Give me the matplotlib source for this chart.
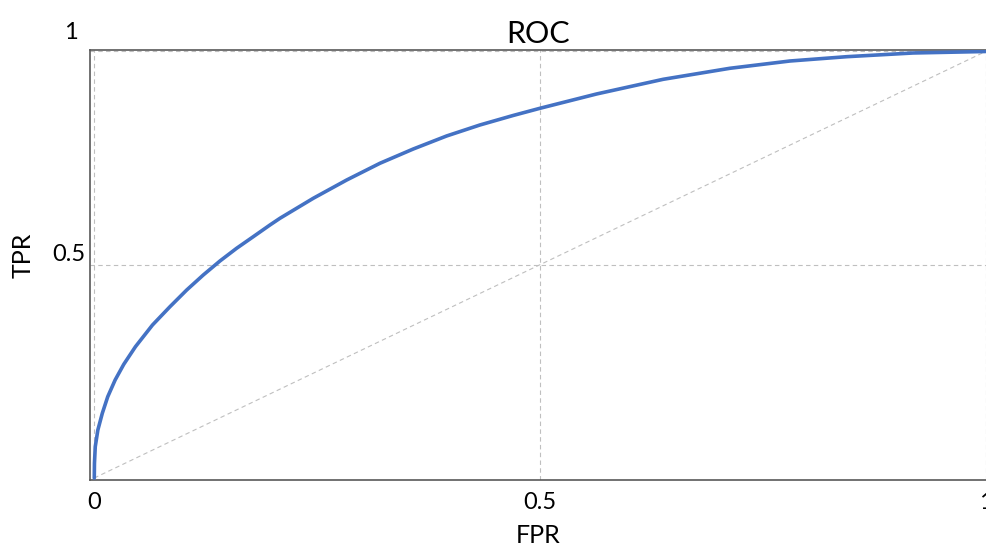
import matplotlib
matplotlib.use("Agg")
import matplotlib.pyplot as plt
import matplotlib.transforms as mtransforms

plt.rcParams['font.family'] = ['Lato', 'DejaVu Sans']

# ROC curve points
fpr = [0.0, 0.0002, 0.0011, 0.0040, 0.0090, 0.0151, 0.0234, 0.0331, 0.0462,
       0.0653, 0.0849, 0.1037, 0.1223, 0.1410, 0.1597, 0.1784, 0.1971, 0.2083,
       0.2457, 0.2832, 0.3205, 0.3579, 0.3953, 0.4327, 0.4700, 0.5000,
       0.5636, 0.6383, 0.7131, 0.7805, 0.8441, 0.9188, 1.0]
tpr = [0.0, 0.0345, 0.0734, 0.1125, 0.1517, 0.1906, 0.2298, 0.2666, 0.3079,
       0.3587, 0.4016, 0.4408, 0.4760, 0.5088, 0.5386, 0.5658, 0.5932, 0.6089,
       0.6558, 0.6987, 0.7379, 0.7714, 0.8019, 0.8277, 0.8500, 0.8668,
       0.9004, 0.9348, 0.9606, 0.9777, 0.9878, 0.9965, 1.0]
chance = [0.0, 1.0]

x_ticks = [0, 0.5, 1]
x_ticklabels = ["0", "0.5", "1"]
y_ticks = [0.5, 1]
y_ticklabels = ["0.5", "1"]

title = "ROC"
xlabel = "FPR"
ylabel = "TPR"

W, H = 986, 545
fig = plt.figure(figsize=(W / 100, H / 100), dpi=100)
ax = fig.add_axes([90 / W, (H - 479.7) / H, 896 / W, 429.7 / H])

grid_color = "#BFBFBF"
ax.plot(chance, chance, color=grid_color, lw=0.8, dashes=(4, 3), zorder=1)
ax.plot(fpr, tpr, color="#4472C4", lw=2.6, solid_capstyle="round",
        solid_joinstyle="round", zorder=3)

ax.set_xlim(-0.0048, 1.0005)
ax.set_ylim(-0.004, 1.0035)

ax.set_xticks(x_ticks, x_ticklabels)
ax.set_yticks(y_ticks, y_ticklabels)
ax.tick_params(axis="both", length=0, labelsize=17, colors="black")
ax.tick_params(axis="x", pad=9)
ax.tick_params(axis="y", pad=3)

ax.grid(True, color=grid_color, lw=0.8, linestyle=(0, (4, 3)), zorder=0)
ax.set_axisbelow(True)

for s in ["left", "bottom", "top"]:
    ax.spines[s].set_color("#595959")
    ax.spines[s].set_linewidth(1.2)
ax.spines["right"].set_visible(False)

# y tick label placement (labels sit above their gridline)
ylabs = ax.get_yticklabels()
for lab in ylabs:
    lab.set_va("bottom")
off1 = mtransforms.ScaledTranslation(-8 / 100, 8 / 100, fig.dpi_scale_trans)
ylabs[1].set_transform(ylabs[1].get_transform() + off1)

ax.set_title(title, fontsize=22, pad=5)
ax.set_xlabel(xlabel, fontsize=18)
ax.set_ylabel(ylabel, fontsize=18)
ax.xaxis.set_label_coords(0.5, -0.103)
ax.yaxis.set_label_coords(-0.062, 0.523)

fig.savefig("out.png", dpi=100)
